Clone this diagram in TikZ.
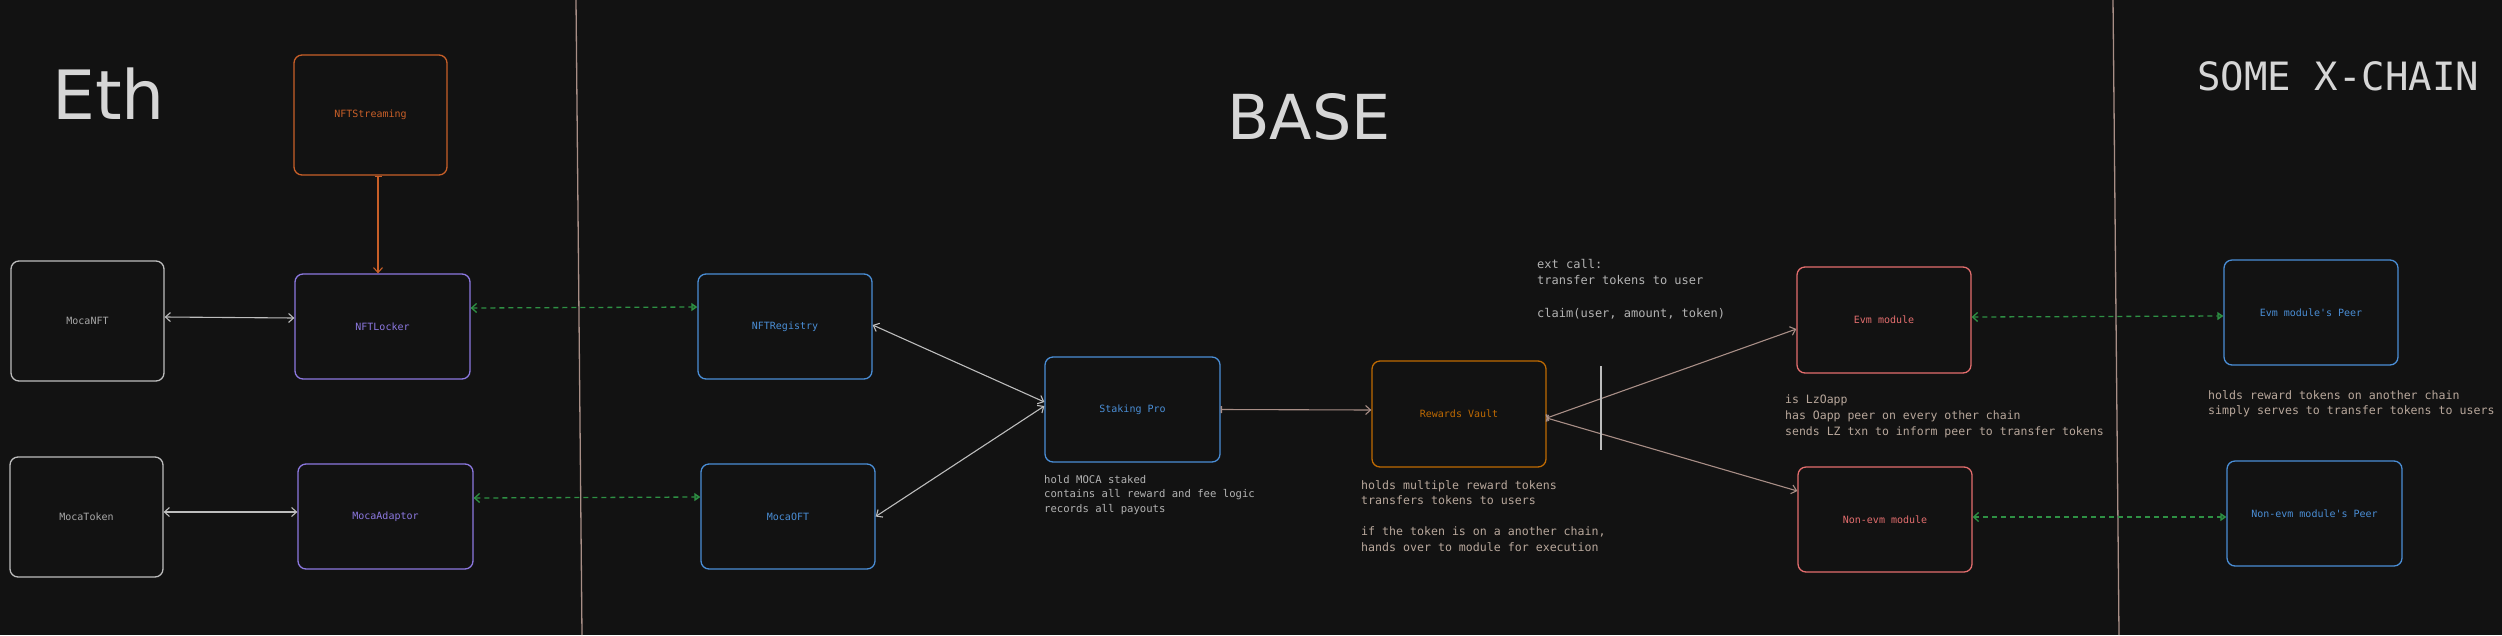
\documentclass[tikz,border=0pt]{standalone}
\usepackage{fontspec}
\setmainfont{DejaVu Sans}
\newfontfamily\monofont{DejaVu Sans Mono}
\usepackage{tikz}
\usetikzlibrary{arrows.meta,calc,positioning}

\definecolor{bgdark}{HTML}{121212}
\definecolor{titlegray}{HTML}{D6D6D6}
\definecolor{boxgray}{HTML}{BDBDBD}
\definecolor{txtgray}{HTML}{A9A9A9}
\definecolor{streamorange}{HTML}{C85F28}
\definecolor{lockpurple}{HTML}{8C78E0}
\definecolor{baseblue}{HTML}{4A8ED6}
\definecolor{vaultamber}{HTML}{BF6A02}
\definecolor{modred}{HTML}{E36E6E}
\definecolor{bridgegreen}{HTML}{2E9144}
\definecolor{chainbrown}{HTML}{A88E86}
\definecolor{notegray}{HTML}{B3B3B3}
\definecolor{notetan}{HTML}{B8A79B}

\tikzset{
  box/.style={draw=#1, text=#1, line width=1.3pt, rounded corners=8pt, inner sep=0pt,
    font=\monofont\fontsize{10}{12}\selectfont},
  smallbox/.style={box=#1, minimum width=153pt, minimum height=120pt},
  ctrbox/.style={box=#1, minimum width=175pt, minimum height=105pt},
  twoway/.style={line width=1.1pt, arrows={Straight Barb[length=5pt,width=9pt]-Straight Barb[length=5pt,width=9pt]}},
  oneway/.style={line width=1.1pt, arrows={Bar[width=7pt,line width=1.5pt]-Straight Barb[length=5pt,width=9pt]}},
  bridge/.style={bridgegreen, line width=1.3pt, dash pattern=on 5pt off 4pt,
    arrows={Straight Barb[length=5pt,width=9pt]-Triangle[length=6pt,width=8pt,open,fill=bridgegreen!60!black]}},
  note/.style={anchor=north west, inner sep=0pt, align=left, font=\monofont\fontsize{#1}{15.5}\selectfont},
  title/.style={anchor=base west, inner sep=0pt, text=titlegray}
}

\begin{document}
\begin{tikzpicture}[x=1pt, y=-1pt]
\fill [bgdark] (0,0) rectangle (2502,635);
\useasboundingbox (0,0) rectangle (2502,635);

\draw [chainbrown, line width=1.3pt] (576,0) -- (582,635);
\draw [chainbrown, line width=1.3pt] (2113,0) -- (2119,635);

\node[title, font=\fontsize{68}{70}\selectfont] (ethtitle) at (52,119) {Eth};
\node[title, font=\fontsize{62}{64}\selectfont] (basetitle) at (1227,139) {BASE};
\node[title, font=\monofont\fontsize{39}{40}\selectfont] (xtitle) at (2197,90) {SOME X-CHAIN};

\node[smallbox=streamorange] (nftstream) at (370.5,115) {NFTStreaming};
\node[smallbox=boxgray, text=txtgray] (mocanft) at (87.5,321) {MocaNFT};
\node[smallbox=boxgray, text=txtgray] (mocatoken) at (86.5,517) {MocaToken};
\node[ctrbox=lockpurple] (nftlocker) at (382.5,326.5) {NFTLocker};
\node[ctrbox=lockpurple] (mocaadaptor) at (385.5,516.5) {MocaAdaptor};

\node[ctrbox=baseblue, minimum width=174pt] (nftregistry) at (785,326.5) {NFTRegistry};
\node[ctrbox=baseblue, minimum width=174pt] (mocaoft) at (788,516.5) {MocaOFT};
\node[ctrbox=baseblue] (stakingpro) at (1132.5,409.5) {Staking Pro};
\node[ctrbox=vaultamber, minimum width=174pt, minimum height=106pt] (rewardsvault) at (1459,414) {Rewards Vault};
\node[ctrbox=modred, minimum width=174pt, minimum height=106pt] (evmmod) at (1884,320) {Evm module};
\node[ctrbox=modred, minimum width=174pt] (nonevmmod) at (1885,519.5) {Non-evm module};

\node[ctrbox=baseblue, minimum width=174pt] (evmpeer) at (2311,312.5) {Evm module's Peer};
\node[ctrbox=baseblue] (nonevmpeer) at (2314.5,513.5) {Non-evm module's Peer};

\draw [streamorange, oneway] ([xshift=7.5pt]nftstream.south) -- ([xshift=-4.5pt]nftlocker.north);
\draw [boxgray, twoway] ([yshift=4pt]mocanft.east) -- ([yshift=8.5pt]nftlocker.west);
\draw [boxgray, twoway] ([yshift=5pt]mocatoken.east) -- ([yshift=4.5pt]mocaadaptor.west);
\draw [bridge] ([yshift=18.5pt]nftlocker.east) -- ([yshift=19.5pt]nftregistry.west);
\draw [bridge] ([yshift=18.5pt]mocaadaptor.east) -- ([yshift=19.5pt]mocaoft.west);
\draw [boxgray, twoway] ([yshift=1.5pt]nftregistry.east) -- ([yshift=7.5pt]stakingpro.west);
\draw [boxgray, twoway] (mocaoft.east) -- ([yshift=3.5pt]stakingpro.west);
\draw [chainbrown, oneway] (stakingpro.east) -- ([yshift=4pt]rewardsvault.west);
\draw [chainbrown, oneway] ([yshift=-4pt]rewardsvault.east) -- ([yshift=-9pt]evmmod.west);
\draw [chainbrown, oneway] ([yshift=-4pt]rewardsvault.east) -- ([yshift=28.5pt]nonevmmod.west);
\draw [bridge] ([yshift=3pt]evmmod.east) -- ([yshift=-3.5pt]evmpeer.west);
\draw [bridge] ([yshift=2.5pt]nonevmmod.east) -- ([yshift=-3.5pt]nonevmpeer.west);

\draw [boxgray, line width=1.3pt] (1601,366) -- (1601,450);

\node[note=10.6, text=notegray, font=\monofont\fontsize{10.6}{14.5}\selectfont] (stakingnote) at (1044,475) {hold MOCA staked\\contains all reward and fee logic\\records all payouts};
\node[note=11.6, text=notetan] (vaultnote) at (1361,480) {holds multiple reward tokens\\transfers tokens to users\\[15.5pt]if the token is on a another chain,\\hands over to module for execution};
\node[note=12, text=notegray, font=\monofont\fontsize{12}{16.3}\selectfont] (callnote) at (1537,259) {ext call:\\transfer tokens to user\\[16.3pt]claim(user, amount, token)};
\node[note=11.5, text=notetan, font=\monofont\fontsize{11.5}{16}\selectfont] (lznote) at (1785,395) {is LzOapp\\has Oapp peer on every other chain\\sends LZ txn to inform peer to transfer tokens};
\node[note=11.6, text=notetan, font=\monofont\fontsize{11.6}{15}\selectfont] (peernote) at (2208,390) {holds reward tokens on another chain\\simply serves to transfer tokens to users};

\end{tikzpicture}
\end{document}
